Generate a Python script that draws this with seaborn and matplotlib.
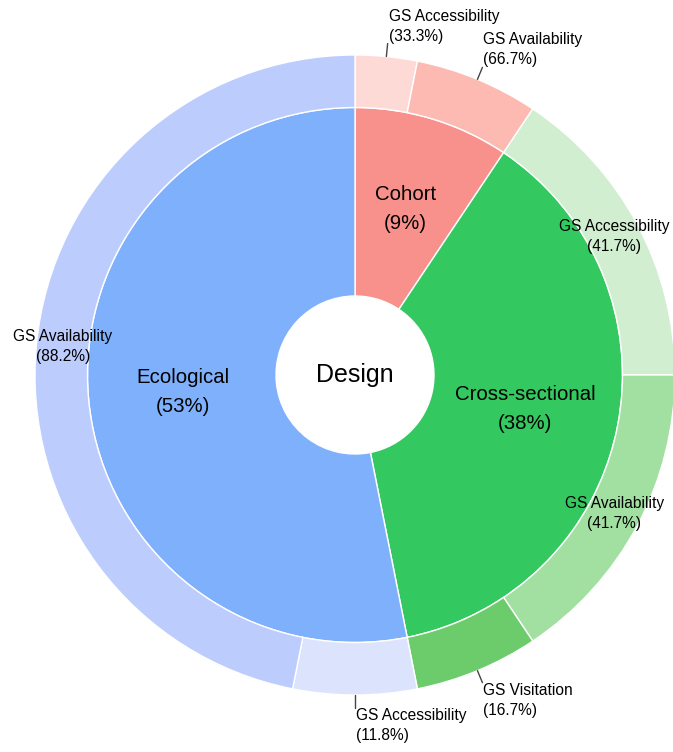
import numpy as np
import matplotlib.pyplot as plt
import seaborn as sns

# study design (inner ring) and green-space exposure within each design (outer ring)
designs = ["Cohort", "Cross-sectional", "Ecological"]
design_colors = ["#F8918B", "#34C860", "#7FB0FB"]

exposures = [
    ["GS Accessibility", "GS Availability"],
    ["GS Accessibility", "GS Availability", "GS Visitation"],
    ["GS Accessibility", "GS Availability"],
]
n_studies = [[1, 2], [5, 5, 2], [2, 15]]
exposure_colors = [
    ["#FDDAD6", "#FCBAB2"],
    ["#D1EED1", "#A2E0A2", "#6CCC6C"],
    ["#DCE4FD", "#BCCCFD"],
]

sns.set_theme(style="white")
plt.rcParams["font.family"] = ["Liberation Sans", "DejaVu Sans"]

totals = [sum(n) for n in n_studies]
grand = sum(totals)
flat_n = [v for n in n_studies for v in n]
flat_colors = [c for cs in exposure_colors for c in cs]

R_OUT, R_MID, R_HOLE = 320, 267.5, 79

fig = plt.figure(figsize=(6.73, 7.52), dpi=100)
ax = fig.add_axes([0, 0, 1, 1])

wp = dict(edgecolor="white", linewidth=1)
ax.pie(totals, radius=R_MID, colors=design_colors, startangle=90,
       counterclock=False, wedgeprops=dict(width=R_MID - R_HOLE, **wp))
ax.pie(flat_n, radius=R_OUT, colors=flat_colors, startangle=90,
       counterclock=False, wedgeprops=dict(width=R_OUT - R_MID, **wp))


def polar(theta, r):
    t = np.radians(theta)
    return r * np.sin(t), r * np.cos(t)


# inner labels
cum = 0
for name, tot in zip(designs, totals):
    mid = 360 * (cum + tot / 2) / grand
    x, y = polar(mid, (R_MID + R_HOLE) / 2)
    ax.text(x, y, f"{name}\n({100 * tot / grand:.0f}%)", ha="center",
            va="center", fontsize=14.7, linespacing=1.65, color="black")
    cum += tot

# outer labels
cum = 0
for names, counts, tot in zip(exposures, n_studies, totals):
    for name, n in zip(names, counts):
        mid = 360 * (cum + n / 2) / grand
        label = f"{name}\n({100 * n / tot:.1f}%)"
        if n / grand < 0.1:
            # small slice: label outside with a leader line
            x0, y0 = polar(mid, R_OUT)
            x1, y1 = polar(mid, R_OUT + 13)
            ax.plot([x0, x1], [y0, y1], color="#444444", lw=1)
            va = "bottom" if y1 > 0 else "top"
            ax.text(x1 + 1, y1, label, ha="left", va=va, fontsize=11.2,
                    linespacing=1.42, multialignment="left", color="black")
        else:
            x, y = polar(mid, (R_OUT + R_MID) / 2)
            ax.text(x, y, label, ha="center", va="center", fontsize=11.2,
                    linespacing=1.42, color="black")
        cum += n

ax.text(0, 0, "Design", ha="center", va="center", fontsize=18, color="black")

ax.set_xlim(-355, 318)
ax.set_ylim(-377, 375)
ax.set_aspect("equal")
ax.axis("off")

fig.savefig("out.png", dpi=100)
